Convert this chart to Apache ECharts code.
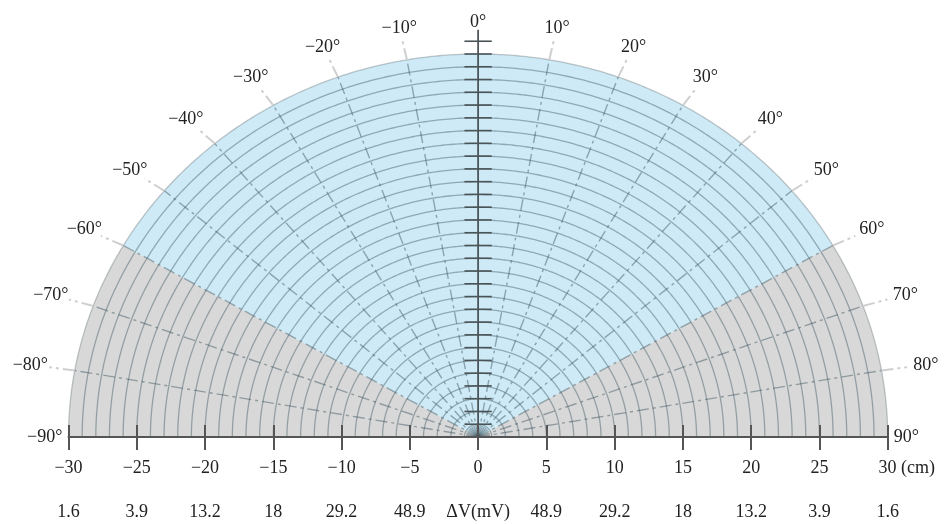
<!DOCTYPE html>
<html><head><meta charset="utf-8">
<script src="https://cdn.jsdelivr.net/npm/echarts@6/dist/echarts.min.js"></script>
<style>html,body{margin:0;padding:0;background:#fff}#c{width:945px;height:524px}</style>
</head><body><div id="c"></div>
<script>
// ---- data ----
const distanceTicks = [-30, -25, -20, -15, -10, -5, 0, 5, 10, 15, 20, 25, 30];
const distanceLabels = ['−30', '−25', '−20', '−15', '−10', '−5', '0', '5', '10', '15', '20', '25', '30'];
const voltageLabels = ['1.6', '3.9', '13.2', '18', '29.2', '48.9', 'ΔV(mV)', '48.9', '29.2', '18', '13.2', '3.9', '1.6'];
const ringRadii = [1, 2, 3, 4, 5, 6, 7, 8, 9, 10, 11, 12, 13, 14, 15, 16, 17, 18, 19, 20, 21, 22, 23, 24, 25, 26, 27, 28, 29, 30];
const spokeAngles = [-80, -70, -60, -50, -40, -30, -20, -10, 10, 20, 30, 40, 50, 60, 70, 80];
const angleLabelValues = [-90, -80, -70, -60, -50, -40, -30, -20, -10, 0, 10, 20, 30, 40, 50, 60, 70, 80, 90];
const angleLabelTexts = ['−90°', '−80°', '−70°', '−60°', '−50°', '−40°', '−30°', '−20°', '−10°', '0°', '10°', '20°', '30°', '40°', '50°', '60°', '70°', '80°', '90°'];
const zoneStart = [-90, -60, 60];
const zoneEnd = [-60, 60, 90];
const zoneKind = ['side', 'front', 'side'];
const centerTickRadii = [1, 2, 3, 4, 5, 6, 7, 8, 9, 10, 11, 12, 13, 14, 15, 16, 17, 18, 19, 20, 21, 22, 23, 24, 25, 26, 27, 28, 29, 30, 31];
const maxRadius = 30;

// ---- helpers ----
const FONT = '"Liberation Serif", "DejaVu Serif", serif';
function pt(api, r, deg, ry) {
  const a = deg * Math.PI / 180;
  return api.coord([r * Math.sin(a), (ry === undefined ? r : ry) * Math.cos(a)]);
}
const zoneColors = { side: '#d8d8d8', front: '#cdeaf6' };
const gridLine = 'rgba(55,80,92,0.42)';

const chart = echarts.init(document.getElementById('c'), null, { renderer: 'canvas' });

const baseX = { type: 'value', min: -30, max: 30, interval: 5, gridIndex: 0, splitLine: { show: false }, z: 10 };

const option = {
  backgroundColor: '#ffffff',
  animation: false,
  grid: { left: 68.5, right: 57.3, top: 54, bottom: 87, outerBoundsMode: 'none', containLabel: false },
  xAxis: [
    Object.assign({}, baseX, {
      axisLine: { show: true, onZero: false, lineStyle: { color: '#555', width: 2 } },
      axisTick: { show: true, length: 13, lineStyle: { color: '#555', width: 2 } },
      axisLabel: {
        show: true, margin: 22, showMinLabel: true, showMaxLabel: true,
        fontFamily: FONT, fontSize: 18, color: '#222',
        formatter: function (v) {
          const i = distanceTicks.indexOf(Math.round(v));
          if (i < 0) return '';
          if (i === distanceTicks.length - 1) return '{p|}' + distanceLabels[i] + ' (cm)';
          return distanceLabels[i];
        },
        rich: { p: { width: 38, fontFamily: FONT, fontSize: 18 } }
      }
    }),
    Object.assign({}, baseX, {
      position: 'bottom',
      axisLine: { show: false },
      axisTick: { show: true, inside: true, length: 12, lineStyle: { color: '#555', width: 2 } },
      axisLabel: { show: false }
    }),
    Object.assign({}, baseX, {
      position: 'bottom',
      axisLine: { show: false },
      axisTick: { show: false },
      axisLabel: {
        show: true, margin: 66, showMinLabel: true, showMaxLabel: true,
        fontFamily: FONT, fontSize: 18, color: '#222',
        formatter: function (v) {
          const i = distanceTicks.indexOf(Math.round(v));
          return i < 0 ? '' : voltageLabels[i];
        }
      }
    })
  ],
  yAxis: { type: 'value', min: 0, max: maxRadius, show: false },
  series: [
    {
      type: 'custom', name: 'zones', clip: false, z: 1,
      data: zoneStart.map((s, i) => [s, zoneEnd[i], i]),
      renderItem: function (params, api) {
        const s = api.value(0), e = api.value(1), k = zoneKind[api.value(2)];
        const pts = [pt(api, 0, 0)];
        for (let d = s; d <= e + 1e-9; d += 0.5) pts.push(pt(api, maxRadius, d));
        return { type: 'polygon', shape: { points: pts }, style: { fill: zoneColors[k] } };
      }
    },
    {
      type: 'custom', name: 'rings', clip: false, z: 2,
      data: ringRadii.map(r => [r]),
      renderItem: function (params, api) {
        const r = api.value(0);
        const pts = [];
        for (let d = -90; d <= 90; d += 0.5) pts.push(pt(api, r, d));
        return { type: 'polyline', shape: { points: pts }, style: { stroke: r === maxRadius ? 'rgba(120,130,135,0.45)' : gridLine, lineWidth: 1.3, fill: null } };
      }
    },
    {
      type: 'custom', name: 'spokes', clip: false, z: 3,
      data: spokeAngles.map(a => [a]),
      renderItem: function (params, api) {
        const a = api.value(0);
        const c = pt(api, 0, a), m = pt(api, maxRadius, a), o = pt(api, 31.9, a, 31.5);
        return {
          type: 'group', children: [
            { type: 'line', shape: { x1: c[0], y1: c[1], x2: m[0], y2: m[1] }, style: { stroke: 'rgba(55,80,92,0.45)', lineWidth: 1.4, lineDash: [12, 4, 3, 4] } },
            { type: 'line', shape: { x1: m[0], y1: m[1], x2: o[0], y2: o[1] }, style: { stroke: '#cfcfcf', lineWidth: 2, lineDash: [12, 4, 3, 4] } }
          ]
        };
      }
    },
    {
      type: 'custom', name: 'centerAxis', clip: false, z: 4,
      data: [[0]],
      renderItem: function (params, api) {
        const c = pt(api, 0, 0), t = pt(api, 31.9, 0);
        return { type: 'line', shape: { x1: c[0], y1: c[1] + 12, x2: t[0], y2: t[1] }, style: { stroke: '#3d4548', lineWidth: 1.6 } };
      }
    },
    {
      type: 'custom', name: 'centerTicks', clip: false, z: 4,
      data: centerTickRadii.map(r => [r]),
      renderItem: function (params, api) {
        const r = api.value(0);
        const p1 = api.coord([-1, r]), p2 = api.coord([1, r]);
        return { type: 'line', shape: { x1: p1[0], y1: p1[1], x2: p2[0], y2: p2[1] }, style: { stroke: '#4a5356', lineWidth: 1.6 } };
      }
    },
    {
      type: 'custom', name: 'angleLabels', clip: false, z: 5,
      data: angleLabelValues.map((a, i) => [a, i]),
      renderItem: function (params, api) {
        const a = api.value(0), i = api.value(1);
        let p, align = 'center';
        if (a === -90) { p = pt(api, 30.45, a); align = 'right'; }
        else if (a === 90) { p = pt(api, 30.45, a); align = 'left'; }
        else p = pt(api, 33.3, a, 32.5);
        return {
          type: 'text', x: p[0], y: p[1],
          style: { text: angleLabelTexts[i], fill: '#222', font: '18px ' + FONT, align: align, verticalAlign: 'middle' }
        };
      }
    }
  ]
};
chart.setOption(option);
</script>
</body></html>
